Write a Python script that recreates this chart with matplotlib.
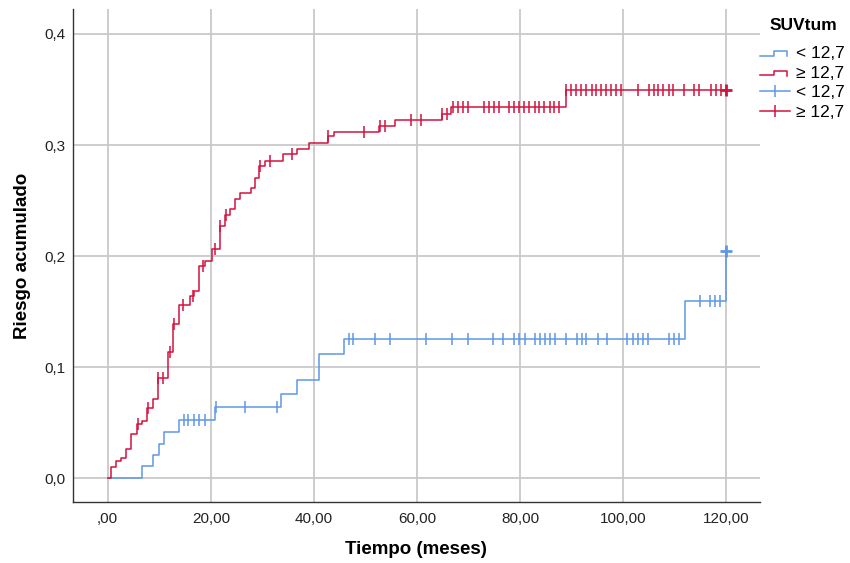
import numpy as np
import matplotlib
matplotlib.use("Agg")
import matplotlib.pyplot as plt
from matplotlib.lines import Line2D
from matplotlib.legend_handler import HandlerBase

plt.rcParams['font.family'] = ['Liberation Sans', 'DejaVu Sans']

# -------------------------
# Data
# -------------------------

group_labels = ["< 12,7", "\u2265 12,7"]
legend_title = "SUVtum"

# cumulative risk, group SUVtum < 12,7
low_times = [6.7, 8.8, 9.9, 10.85, 13.8, 20.9, 33.7, 36.8, 40.9, 45.8, 112.0, 119.9]
low_risk = [0.011, 0.021, 0.031, 0.042, 0.052, 0.064, 0.076, 0.088, 0.112, 0.125, 0.160, 0.205]
low_censored = [14.7, 15.6, 16.7, 17.8, 18.8, 21.0, 26.7, 32.8, 46.8, 47.5, 51.9, 54.8,
                61.7, 66.8, 69.9, 74.8, 76.7, 78.9, 79.8, 80.9, 82.9, 83.9, 84.8, 85.8,
                86.8, 88.9, 91.0, 91.9, 92.8, 95.0, 96.9, 100.8, 101.8, 102.8, 103.8,
                104.8, 108.8, 109.8, 110.8, 114.9, 116.9, 117.8, 118.8, 120.0]

# cumulative risk, group SUVtum >= 12,7
high_times = [0.7, 1.7, 2.65, 3.6, 4.6, 5.7, 6.65, 7.7, 8.8, 9.75, 11.6, 12.7, 13.8,
              15.9, 16.8, 17.8, 18.8, 20.2, 21.8, 22.7, 23.8, 24.7, 25.7, 27.8, 28.5,
              29.3, 30.6, 33.9, 36.7, 39.0, 42.7, 43.9, 52.7, 55.8, 64.9, 66.6, 88.8]
high_risk = [0.0105, 0.0156, 0.0186, 0.026, 0.0395, 0.0485, 0.0515, 0.0635, 0.071, 0.090,
             0.114, 0.139, 0.156, 0.164, 0.169, 0.191, 0.196, 0.206, 0.227, 0.237, 0.242,
             0.251, 0.257, 0.261, 0.270, 0.281, 0.286, 0.292, 0.296, 0.302, 0.308, 0.312,
             0.317, 0.323, 0.328, 0.334, 0.3495]
high_censored = [5.8, 7.8, 9.8, 10.7, 12.0, 12.8, 14.6, 16.6, 18.5, 20.9, 21.8, 22.9,
                 29.6, 31.5, 35.8, 42.8, 49.8, 52.9, 53.7, 58.9, 60.8, 64.9, 65.8, 66.9,
                 67.9, 68.9, 69.8, 72.9, 73.9, 74.9, 75.8, 77.9, 78.9, 79.8, 80.8, 81.8,
                 82.8, 83.7, 84.7, 85.7, 86.6, 87.6, 88.9, 89.9, 90.8, 91.8, 92.8, 93.9,
                 94.7, 95.7, 96.6, 97.6, 98.6, 99.6, 102.8, 104.9, 105.9, 106.8, 107.8,
                 108.8, 109.7, 111.8, 113.8, 114.7, 117.0, 118.0, 118.9, 120.0]

follow_up_end = 120.0

xticks = [0, 20, 40, 60, 80, 100, 120]
xtick_labels = [",00", "20,00", "40,00", "60,00", "80,00", "100,00", "120,00"]
yticks = [0.0, 0.1, 0.2, 0.3, 0.4]
ytick_labels = ["0,0", "0,1", "0,2", "0,3", "0,4"]

blue = "#5e97e6"
red = "#d3123f"


def step_curve(times, risk, end):
    x = np.r_[0.0, times, end]
    y = np.r_[0.0, risk, risk[-1]]
    return x, y


def level_at(times, risk, t):
    tt = np.r_[0.0, times]
    rr = np.r_[0.0, risk]
    idx = np.searchsorted(tt, t, side="right") - 1
    return rr[idx]


class StepHandler(HandlerBase):
    # little "step" icon like the SPSS legend
    def create_artists(self, legend, orig_handle, xdescent, ydescent,
                       width, height, fontsize, trans):
        w = width * 0.93
        xs = np.array([0, 0.5, 0.5, 1.0, 1.0]) * w - xdescent
        ys = np.array([0.2, 0.2, 0.55, 0.55, 0.15]) * height - ydescent
        ln = Line2D(xs, ys, color=orig_handle.get_color(),
                    lw=orig_handle.get_linewidth())
        ln.set_transform(trans)
        return [ln]


# -------------------------
# Plot
# -------------------------

fig = plt.figure(figsize=(8.5, 5.63), dpi=100)
ax = fig.add_axes([0.0855, 0.108, 0.894 - 0.0855, 0.984 - 0.108])

ax.set_xlim(-6.8, 126.5)
ax.set_ylim(-0.0216, 0.4225)

groups = [
    (low_times, low_risk, low_censored, blue),
    (high_times, high_risk, high_censored, red),
]

for times, risk, cens, col in groups:
    x, y = step_curve(times, risk, follow_up_end)
    ax.step(x, y, where="post", color=col, lw=1.1, zorder=3)
    cens = np.array(cens)
    cy = level_at(times, risk, cens)
    last = cens >= follow_up_end
    ax.plot(cens[~last], cy[~last], ls="none", marker="|", ms=8,
            mew=1.1, color=col, zorder=4)
    ax.plot(cens[last], cy[last], ls="none", marker="+", ms=9,
            mew=2.0, color=col, zorder=4)

ax.set_xticks(xticks)
ax.set_xticklabels(xtick_labels)
ax.set_yticks(yticks)
ax.set_yticklabels(ytick_labels)
ax.tick_params(length=0, labelsize=11, colors="#222222")
ax.tick_params(axis="x", pad=7)
ax.tick_params(axis="y", pad=5)

ax.grid(True, color="#c9c9c9", lw=1.3)
ax.set_axisbelow(True)

for side in ["top", "right"]:
    ax.spines[side].set_visible(False)
for side in ["left", "bottom"]:
    ax.spines[side].set_color("#333333")
    ax.spines[side].set_linewidth(1.0)

ax.set_xlabel("Tiempo (meses)", fontsize=13.5, fontweight="bold", labelpad=11)
ax.set_ylabel("Riesgo acumulado", fontsize=13.5, fontweight="bold", labelpad=10)

# -------------------------
# Legend
# -------------------------

h_low = Line2D([], [], color=blue, lw=1.1)
h_high = Line2D([], [], color=red, lw=1.1)
c_low = Line2D([], [], color=blue, lw=1.1, marker="|", ms=9, mew=1.1)
c_high = Line2D([], [], color=red, lw=1.1, marker="|", ms=9, mew=1.1)

fig.text(803 / 850, 1 - 25 / 563, legend_title, fontsize=12.5,
         fontweight="bold", ha="center", va="center")

leg = ax.legend(
    [h_low, h_high, c_low, c_high],
    group_labels + group_labels,
    handler_map={h_low: StepHandler(), h_high: StepHandler()},
    loc="upper left",
    bbox_to_anchor=(760 / 850, 1 - 46 / 563),
    bbox_transform=fig.transFigure,
    frameon=False,
    fontsize=12.5,
    handlelength=1.7,
    handletextpad=0.35,
    labelspacing=0.26,
    borderpad=0,
    borderaxespad=0,
    numpoints=1,
)

plt.savefig("out.png", dpi=100)
